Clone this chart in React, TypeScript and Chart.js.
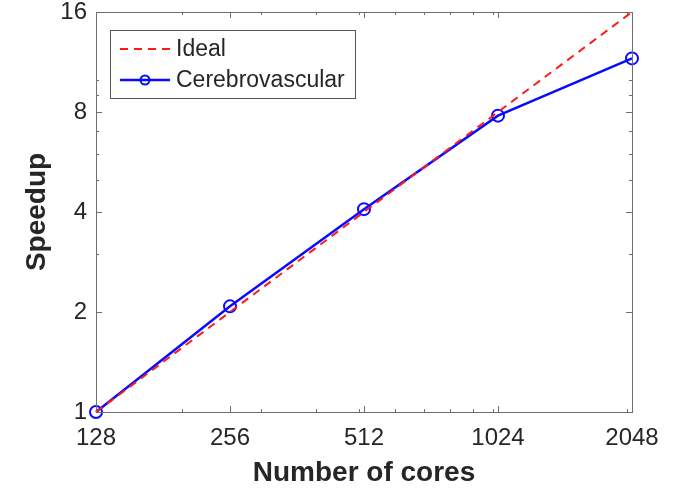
import React, { useEffect, useRef } from "react";
import { Chart, registerables } from "chart.js";

Chart.register(...registerables);

const cores = [128, 256, 512, 1024, 2048];
const idealSpeedup = [1, 2, 4, 8, 16];
const cerebroSpeedup = [1, 2.08, 4.08, 7.8, 11.6];
const xTickValues = [128, 256, 512, 1024, 2048];
const yTickValues = [1, 2, 4, 8, 16];
const xMinorTicks = [200, 300, 400, 500, 600, 700, 800, 900, 1000, 2000];
const yMinorTicks = [3, 5, 6, 7, 9, 10];
const seriesLabels = ["Ideal", "Cerebrovascular"];

const FONT = "'Liberation Sans', Arial, sans-serif";
const AXIS_COLOR = "#6e6e6e";
const TEXT_COLOR = "#262626";

const boxTicksPlugin = {
  id: "boxTicks",
  afterDatasetsDraw(chart: any) {
    const { ctx, chartArea: a, scales } = chart;
    const xs = scales.x;
    const ys = scales.y;
    ctx.save();
    ctx.strokeStyle = AXIS_COLOR;
    ctx.lineWidth = 1;
    const hline = (x1: number, y1: number, x2: number, y2: number) => {
      ctx.beginPath();
      ctx.moveTo(x1, y1);
      ctx.lineTo(x2, y2);
      ctx.stroke();
    };
    const drawX = (v: number, len: number) => {
      const px = Math.round(xs.getPixelForValue(v)) + 0.5;
      hline(px, a.bottom, px, a.bottom - len);
      hline(px, a.top, px, a.top + len);
    };
    const drawY = (v: number, len: number) => {
      const py = Math.round(ys.getPixelForValue(v)) + 0.5;
      hline(a.left, py, a.left + len, py);
      hline(a.right, py, a.right - len, py);
    };
    xTickValues.forEach((v) => drawX(v, 6));
    xMinorTicks.forEach((v) => drawX(v, 3));
    yTickValues.forEach((v) => drawY(v, 6));
    yMinorTicks.forEach((v) => drawY(v, 3));
    ctx.strokeRect(Math.round(a.left) + 0.5, Math.round(a.top) + 0.5, Math.round(a.right - a.left), Math.round(a.bottom - a.top));
    ctx.restore();
  },
  afterDraw(chart: any) {
    const { ctx } = chart;
    const bx = 110, by = 30, bw = 245, bh = 68;
    ctx.save();
    ctx.fillStyle = "#ffffff";
    ctx.fillRect(bx, by, bw, bh);
    ctx.strokeStyle = "#555555";
    ctx.lineWidth = 1;
    ctx.strokeRect(bx + 0.5, by + 0.5, bw, bh);
    const rows = [49, 80];
    chart.data.datasets.forEach((ds: any, i: number) => {
      const y = rows[i];
      ctx.strokeStyle = ds.borderColor;
      ctx.lineWidth = ds.borderWidth;
      ctx.setLineDash(ds.borderDash || []);
      ctx.beginPath();
      ctx.moveTo(120, y);
      ctx.lineTo(170, y);
      ctx.stroke();
      ctx.setLineDash([]);
      if (ds.pointRadius > 0) {
        ctx.lineWidth = ds.pointBorderWidth;
        ctx.beginPath();
        ctx.arc(145, y, 4.5, 0, Math.PI * 2);
        ctx.stroke();
      }
      ctx.fillStyle = TEXT_COLOR;
      ctx.font = `23px ${FONT}`;
      ctx.textBaseline = "middle";
      ctx.textAlign = "left";
      ctx.fillText(ds.label, 176, y + 1);
    });
    ctx.restore();
  },
};

export default function App() {
  const canvasRef = useRef<HTMLCanvasElement | null>(null);

  useEffect(() => {
    document.body.style.margin = "0";
    const canvas = canvasRef.current;
    if (!canvas) return;
    const chart = new Chart(canvas, {
      type: "line",
      data: {
        datasets: [
          {
            label: seriesLabels[0],
            data: cores.map((c, i) => ({ x: c, y: idealSpeedup[i] })),
            borderColor: "#ff1a1a",
            borderWidth: 2,
            borderDash: [8, 6],
            pointRadius: 0,
            pointBorderWidth: 0,
            fill: false,
            tension: 0,
            clip: false as any,
          },
          {
            label: seriesLabels[1],
            data: cores.map((c, i) => ({ x: c, y: cerebroSpeedup[i] })),
            borderColor: "#0a0aff",
            borderWidth: 2.5,
            pointRadius: 6,
            pointBorderWidth: 2,
            pointBorderColor: "#0a0aff",
            pointBackgroundColor: "rgba(0,0,0,0)",
            fill: false,
            tension: 0,
            clip: false as any,
          },
        ],
      },
      options: {
        animation: false,
        responsive: false,
        maintainAspectRatio: false,
        layout: { padding: { left: 0, top: 12, right: 58, bottom: 0 } },
        plugins: {
          legend: { display: false },
          tooltip: { enabled: false },
        },
        scales: {
          x: {
            type: "logarithmic",
            min: 128,
            max: 2048,
            afterBuildTicks: (scale: any) => {
              scale.ticks = xTickValues.map((v) => ({ value: v }));
            },
            afterFit: (scale: any) => {
              scale.height = 78;
              scale.paddingLeft = 0;
              scale.paddingRight = 0;
            },
            grid: { display: false, drawTicks: false },
            border: { display: false },
            ticks: {
              padding: 12,
              autoSkip: false,
              maxRotation: 0,
              color: TEXT_COLOR,
              font: { family: FONT, size: 24 },
              callback: (v: any) => String(v),
            },
            title: {
              display: true,
              text: "Number of cores",
              color: TEXT_COLOR,
              font: { family: FONT, size: 28, weight: "bold" },
              padding: { top: 0, bottom: 0 },
            },
          },
          y: {
            type: "logarithmic",
            min: 1,
            max: 16,
            afterBuildTicks: (scale: any) => {
              scale.ticks = yTickValues.map((v) => ({ value: v }));
            },
            afterFit: (scale: any) => {
              scale.width = 96;
              scale.paddingTop = 0;
              scale.paddingBottom = 0;
            },
            grid: { display: false, drawTicks: false },
            border: { display: false },
            ticks: {
              padding: 9,
              autoSkip: false,
              color: TEXT_COLOR,
              font: { family: FONT, size: 24 },
              callback: (v: any) => String(v),
            },
            title: {
              display: true,
              text: "Speedup",
              color: TEXT_COLOR,
              font: { family: FONT, size: 28, weight: "bold" },
              padding: { top: 20, bottom: 0 },
            },
          },
        },
      } as any,
      plugins: [boxTicksPlugin],
    });
    return () => chart.destroy();
  }, []);

  return (
    <div style={{ width: 690, height: 490 }}>
      <canvas ref={canvasRef} width={690} height={490} style={{ display: "block" }} />
    </div>
  );
}
